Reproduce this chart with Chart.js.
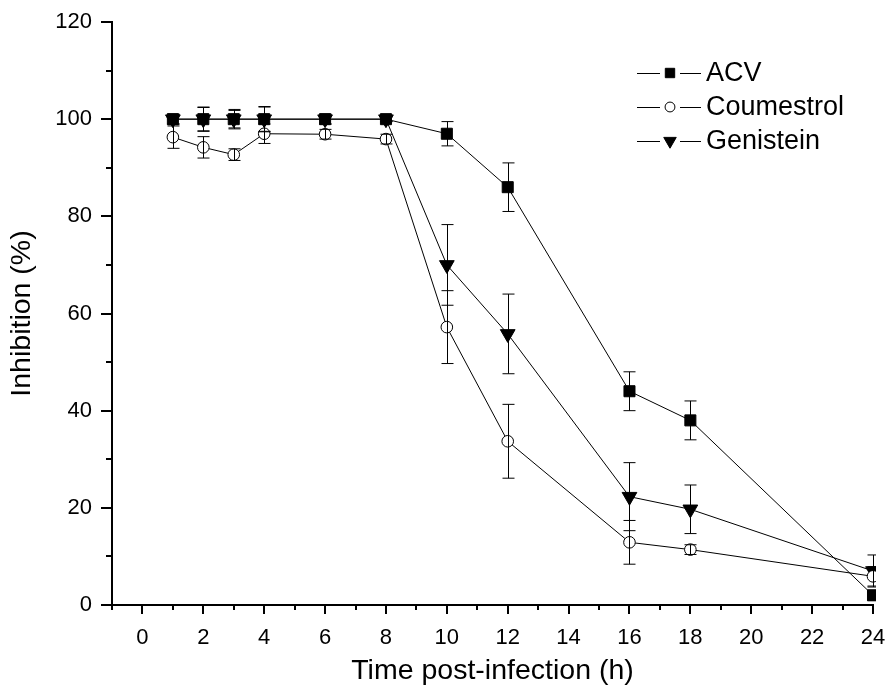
<!DOCTYPE html>
<html>
<head>
<meta charset="utf-8">
<script src="https://cdn.jsdelivr.net/npm/chart.js@4.4.0/dist/chart.umd.min.js"></script>
<style>
  html, body { margin: 0; padding: 0; background: #fff; }
  #wrap { width: 890px; height: 693px; }
</style>
</head>
<body>
<div id="wrap"><canvas id="chart"></canvas></div>
<script>
// time points (h)
const hours = [1, 2, 3, 4, 6, 8, 10, 12, 16, 18, 24];

const acv = [100, 100, 100, 100, 100, 100, 97, 86, 44, 38, 2];
const acvErr = [1, 2.5, 2, 2.5, 1, 0.5, 2.5, 5, 4, 4, 1];

const coumestrol = [96.3, 94.2, 92.7, 97, 96.9, 95.9, 57.2, 33.7, 12.9, 11.4, 5.9];
const coumestrolErr = [2.3, 2.2, 1.2, 2, 1, 1, 7.5, 7.6, 4.5, 1, 2];

const genistein = [100, 100, 100, 100, 100, 100, 70, 55.8, 22.3, 19.7, 7];
const genisteinErr = [1, 2.4, 1.8, 2.6, 1, 0.5, 8.3, 8.2, 7, 5, 3.3];

const xTicks = [0, 2, 4, 6, 8, 10, 12, 14, 16, 18, 20, 22, 24];
const yTicks = [0, 20, 40, 60, 80, 100, 120];

const FONT = '"Liberation Sans", Arial, sans-serif';

const toPoints = ys => hours.map((h, i) => ({ x: h, y: ys[i] }));

const series = [
  { label: 'ACV', values: acv, err: acvErr, style: 'rect', radius: 7.8, fill: '#000', rot: 0 },
  { label: 'Coumestrol', values: coumestrol, err: coumestrolErr, style: 'circle', radius: 5.8, fill: '#fff', rot: 0 },
  { label: 'Genistein', values: genistein, err: genisteinErr, style: 'triangle', radius: 8.5, fill: '#000', rot: 180 },
];

// error bars on top of the markers
const errorBars = {
  id: 'errorBars',
  afterDatasetsDraw(chart) {
    const { ctx, chartArea } = chart;
    const yScale = chart.scales.y;
    ctx.save();
    ctx.beginPath();
    ctx.rect(chartArea.left - 10, 0, chartArea.right - chartArea.left + 13, chart.height);
    ctx.clip();
    ctx.strokeStyle = '#000';
    ctx.lineWidth = 1;
    chart.data.datasets.forEach((ds, di) => {
      const meta = chart.getDatasetMeta(di);
      meta.data.forEach((pt, i) => {
        const v = ds.data[i].y, e = ds.errors[i];
        const x = Math.round(pt.x) + 0.5;
        const yTop = yScale.getPixelForValue(v + e);
        const yBot = yScale.getPixelForValue(v - e);
        ctx.beginPath();
        ctx.moveTo(x, yTop); ctx.lineTo(x, yBot);
        ctx.moveTo(x - 6, yTop); ctx.lineTo(x + 6, yTop);
        ctx.moveTo(x - 6, yBot); ctx.lineTo(x + 6, yBot);
        ctx.stroke();
      });
    });
    ctx.restore();
  }
};

// Origin-style outward ticks (major + minor)
const axisTicks = {
  id: 'axisTicks',
  afterDraw(chart) {
    const { ctx, scales: { x, y } } = chart;
    ctx.save();
    ctx.strokeStyle = '#000';
    ctx.lineWidth = 2;
    ctx.beginPath();
    for (let v = -1; v <= 24; v++) {
      const px = Math.round(x.getPixelForValue(v));
      const len = (v % 2 === 0) ? 9 : 5;
      ctx.moveTo(px, y.bottom); ctx.lineTo(px, y.bottom + len);
    }
    for (let v = 0; v <= 120; v += 10) {
      const py = Math.round(y.getPixelForValue(v));
      const len = (v % 20 === 0) ? 11 : 6;
      ctx.moveTo(x.left, py); ctx.lineTo(x.left - len, py);
    }
    ctx.stroke();
    ctx.restore();
  }
};

// legend: line - marker - line, then label
const lineLegend = {
  id: 'lineLegend',
  afterDraw(chart) {
    const { ctx } = chart;
    const x0 = 637, rowY = [73, 107, 141];
    ctx.save();
    series.forEach((s, i) => {
      const yy = rowY[i] + 0.5;
      ctx.strokeStyle = '#000';
      ctx.lineWidth = 1;
      ctx.beginPath();
      ctx.moveTo(x0, yy); ctx.lineTo(x0 + 23, yy);
      ctx.moveTo(x0 + 43, yy); ctx.lineTo(x0 + 64, yy);
      ctx.stroke();
      ctx.fillStyle = s.fill;
      Chart.helpers.drawPoint(ctx, {
        pointStyle: s.style, radius: s.radius * 0.85, rotation: s.rot, borderWidth: 1
      }, x0 + 33, rowY[i]);
      ctx.fillStyle = '#000';
      ctx.font = '27px ' + FONT;
      ctx.textBaseline = 'middle';
      ctx.textAlign = 'left';
      ctx.fillText(s.label, x0 + 69, rowY[i] + 1);
    });
    ctx.restore();
  }
};

new Chart(document.getElementById('chart'), {
  type: 'line',
  data: {
    datasets: series.map(s => ({
      label: s.label,
      data: toPoints(s.values),
      errors: s.err,
      borderColor: '#000',
      borderWidth: 1,
      backgroundColor: s.fill,
      pointStyle: s.style,
      pointRadius: s.radius,
      pointHoverRadius: s.radius,
      pointRotation: s.rot,
      pointBackgroundColor: s.fill,
      pointBorderColor: '#000',
      pointBorderWidth: 1,
      tension: 0,
      fill: false,
      clip: { left: false, top: false, right: 3, bottom: false },
    }))
  },
  options: {
    responsive: true,
    maintainAspectRatio: false,
    animation: false,
    events: [],
    layout: { padding: { top: 22, right: 17, left: 0, bottom: 0 } },
    plugins: { legend: { display: false }, tooltip: { enabled: false } },
    scales: {
      x: {
        type: 'linear',
        min: -1,
        max: 24,
        afterBuildTicks: scale => { scale.ticks = xTicks.map(v => ({ value: v })); },
        afterFit: scale => { scale.height = 88; scale.paddingLeft = 0; scale.paddingRight = 0; },
        grid: { display: false, drawTicks: false },
        border: { display: true, color: '#000', width: 2 },
        ticks: { color: '#000', padding: 20, font: { family: FONT, size: 22 }, maxRotation: 0, autoSkip: false },
        title: { display: true, text: 'Time post-infection (h)', color: '#000', font: { family: FONT, size: 28.5 }, padding: { top: 0, bottom: 5 } }
      },
      y: {
        min: 0,
        max: 120,
        afterBuildTicks: scale => { scale.ticks = yTicks.map(v => ({ value: v })); },
        afterFit: scale => { scale.width = 112; scale.paddingTop = 0; scale.paddingBottom = 0; },
        grid: { display: false, drawTicks: false },
        border: { display: true, color: '#000', width: 2 },
        ticks: { color: '#000', padding: 20, font: { family: FONT, size: 22 } },
        title: { display: true, text: 'Inhibition (%)', color: '#000', font: { family: FONT, size: 28.5 }, padding: { top: 5, bottom: 0 } }
      }
    }
  },
  plugins: [errorBars, axisTicks, lineLegend]
});
</script>
</body>
</html>
